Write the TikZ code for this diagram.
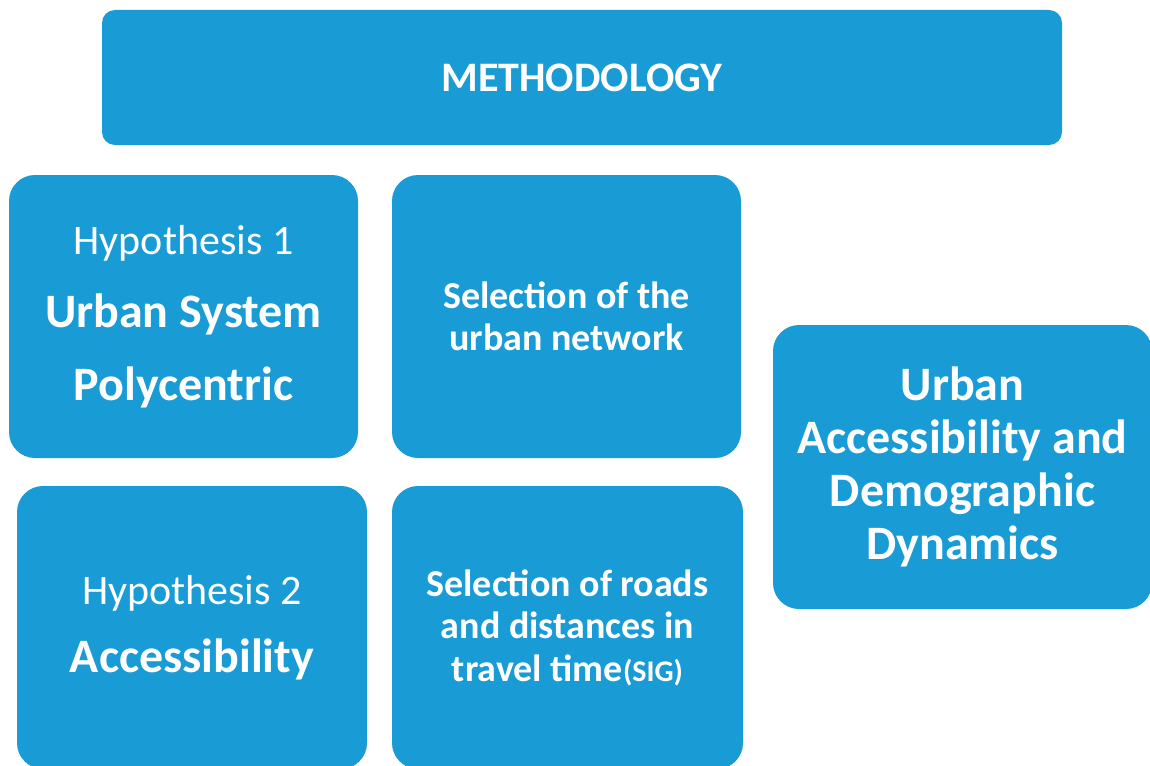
\documentclass[tikz,border=0pt]{standalone}
\usepackage{fontspec}
\setmainfont{Carlito}
\usepackage{tikz}
\usetikzlibrary{positioning}
\definecolor{boxblue}{HTML}{199BD6}
\tikzset{bluebox/.style={fill=boxblue, draw=none, rounded corners=26pt, text=white, align=center, inner sep=0pt}}

\begin{document}
\begin{tikzpicture}[x=1pt,y=-1pt]
	\clip (0,0) rectangle (1150,765);
	\node [bluebox, rounded corners=13pt, minimum width=960pt, minimum height=135pt, font=\bfseries\fontsize{42}{48}\selectfont] (meth) at (582,77.5) {METHODOLOGY};
	\node [bluebox, minimum width=349pt, minimum height=283pt, font=\bfseries\fontsize{48}{73}\selectfont] (hypone) at (183.5,316.5) {\mdseries\fontsize{42}{50}\selectfont Hypothesis 1\\Urban System\\Polycentric};
	\node [bluebox, minimum width=349pt, minimum height=283pt, font=\bfseries\fontsize{38}{42}\selectfont] (selnet) at (566.5,316.5) {Selection of the\\urban network};
	\node [bluebox, minimum width=379pt, minimum height=284pt, font=\bfseries\fontsize{48}{53}\selectfont] (result) at (962.5,467) {Urban\\Accessibility and\\Demographic\\Dynamics};
	\node [bluebox, minimum width=350pt, minimum height=283pt, font=\bfseries\fontsize{48}{68}\selectfont] (hyptwo) at (192,627.5) {\mdseries\fontsize{42}{50}\selectfont Hypothesis 2\\Accessibility};
	\node [bluebox, minimum width=351pt, minimum height=283pt, font=\bfseries\fontsize{38}{42.5}\selectfont] (selroad) at (567.5,627.5) {Selection of roads\\and distances in\\travel time{\fontsize{30}{32}\selectfont(SIG)}};
\end{tikzpicture}
\end{document}
